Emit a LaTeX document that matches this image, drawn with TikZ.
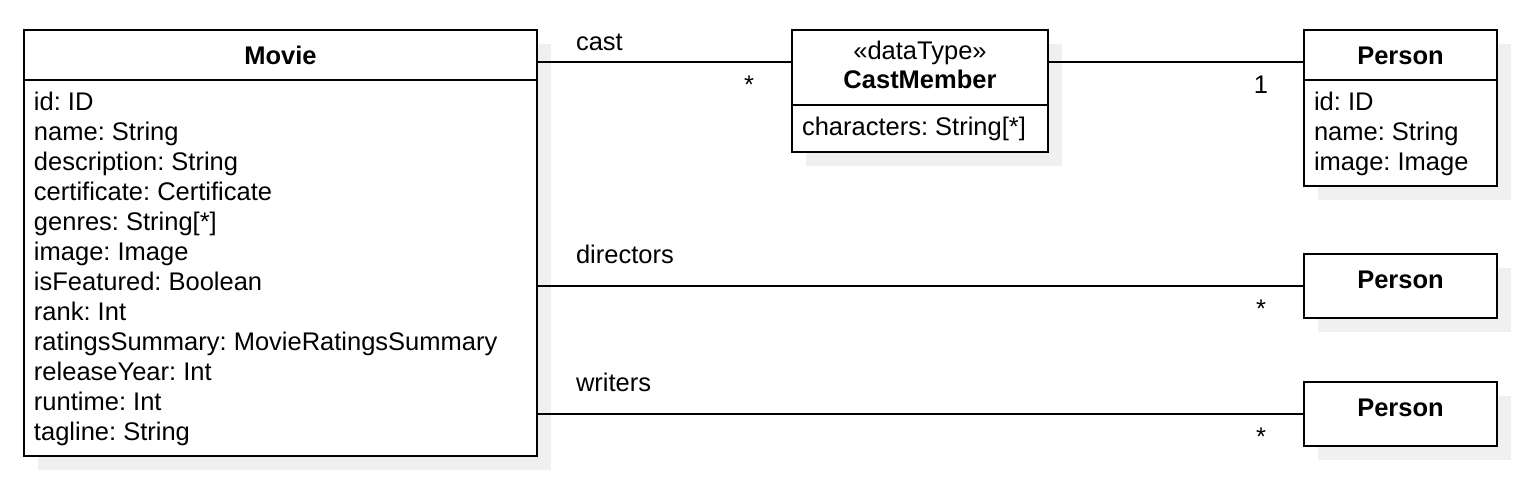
\documentclass[tikz,border=0pt]{standalone}
\usepackage{fontspec}
\setmainfont{Liberation Sans}
\usetikzlibrary{shadows}
\definecolor{shc}{RGB}{240,240,240}
\frenchspacing
\begin{document}
\begin{tikzpicture}[x=1pt,y=-1pt,
  every node/.style={font=\fontsize{25.5pt}{30pt}\selectfont, inner sep=0pt, outer sep=0pt},
  umlbox/.style={draw=black, line width=2.4pt, fill=white, anchor=north west, rectangle,
    general shadow={fill=shc, shadow xshift=14pt, shadow yshift=-14pt}},
  conn/.style={draw=black, line width=2.4pt},
  attr/.style={anchor=base west},
  title/.style={anchor=base, font=\fontsize{25.5pt}{30pt}\selectfont\bfseries},
  lbl/.style={anchor=base west},
  mult/.style={anchor=base}]
\useasboundingbox (0,0) rectangle (1526,498);

% boxes
\node[umlbox, minimum width=513pt, minimum height=426pt] (movie) at (24,30) {};
\node[umlbox, minimum width=256pt, minimum height=122pt] (cm) at (792,30) {};
\node[umlbox, minimum width=193pt, minimum height=156pt] (p1) at (1304,30) {};
\node[umlbox, minimum width=193pt, minimum height=64pt] (p2) at (1304,254) {};
\node[umlbox, minimum width=193pt, minimum height=64pt] (p3) at (1304,382) {};

% dividers
\draw[conn] (movie.north west) ++(0,50) coordinate (mvd) -- (mvd -| movie.east);
\draw[conn] (cm.north west) ++(0,75) coordinate (cmd) -- (cmd -| cm.east);
\draw[conn] (p1.north west) ++(0,50) coordinate (p1d) -- (p1d -| p1.east);

% titles
\node[title] (mvt) at (280.5,64) {Movie};
\node[anchor=base] (cms) at (920,59) {«dataType»};
\node[title] (cmt) at (920,88) {CastMember};
\node[title] (p1t) at (1400.5,64) {Person};
\node[title] (p2t) at (1400.5,288) {Person};
\node[title] (p3t) at (1400.5,416) {Person};

% attributes
\foreach \t [count=\i] in {id: ID, name: String, description: String, certificate: Certificate,
  genres: String[*], image: Image, isFeatured: Boolean, rank: Int,
  ratingsSummary: MovieRatingsSummary, releaseYear: Int, runtime: Int, tagline: String}
  \node[attr] (mva\i) at (34,{110+30*(\i-1)}) {\t};
\node[attr] (cma1) at (802,135) {characters: String[*]};
\foreach \t [count=\i] in {id: ID, name: String, image: Image}
  \node[attr] (p1a\i) at (1314,{110+30*(\i-1)}) {\t};

% connectors
\draw[conn] (movie.north east) ++(0,32) coordinate (c1) -- (c1 -| cm.west);
\draw[conn] (cm.north east) ++(0,32) coordinate (c2) -- (c2 -| p1.west);
\draw[conn] (p2.west) -- (p2.west -| movie.east);
\draw[conn] (p3.west) -- (p3.west -| movie.east);

% labels
\node[lbl] (l1) at (576,50) {cast};
\node[mult] (m1) at (749,93) {*};
\node[mult] (m2) at (1261,93) {1};
\node[lbl] (l2) at (576,263) {directors};
\node[mult] (m3) at (1261,317) {*};
\node[lbl] (l3) at (576,391) {writers};
\node[mult] (m4) at (1261,445) {*};
\end{tikzpicture}
\end{document}
